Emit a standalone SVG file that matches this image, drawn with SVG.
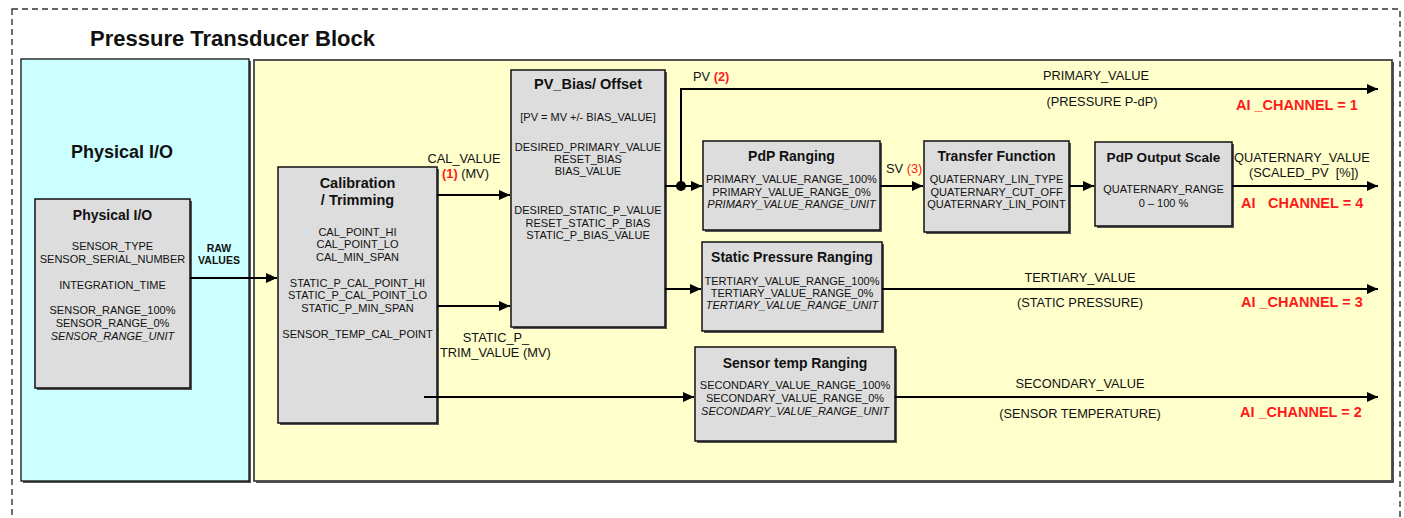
<svg xmlns="http://www.w3.org/2000/svg" width="1404" height="518" viewBox="0 0 1404 518">
  <defs>
    <marker id="arrow" markerUnits="userSpaceOnUse" markerWidth="11" markerHeight="10" refX="11" refY="5" orient="auto">
      <path d="M0,0 L11,5 L0,10 z" fill="#000"/>
    </marker>
  </defs>
  <style>
    text { font-family: "Liberation Sans", Arial, sans-serif; fill: #111; }
    .title { font-size: 22px; font-weight: bold; }
    .panelTitle { font-size: 18px; font-weight: bold; }
    .head { font-size: 14.5px; font-weight: bold; text-anchor: middle; }
    .body { font-size: 11px; text-anchor: middle; }
    .it { font-style: italic; }
    .lbl { font-size: 12.8px; }
    .mid { text-anchor: middle; }
    .red { fill: #ff1a1a; }
    .b { font-weight: bold; }
    .chan { font-size: 14.5px; font-weight: bold; fill: #ff1a1a; }
    .raw { font-size: 10.5px; font-weight: bold; text-anchor: middle; }
    .box { fill: #dddddd; stroke: #111; stroke-width: 1.5; }
    .shadow { fill: #555; }
    .conn { fill: none; stroke: #000; stroke-width: 2; }
  </style>

  <!-- outer dashed frame -->
  <rect x="12" y="9" width="1388" height="530" fill="none" stroke="#333" stroke-width="1.4" stroke-dasharray="6 4"/>

  <text class="title" x="90" y="46">Pressure Transducer Block</text>

  <!-- physical I/O panel -->
  <g id="panel-physical">
    <rect x="23" y="61" width="228" height="422" class="shadow"/>
    <rect x="21" y="59" width="228" height="422" fill="#ccffff" stroke="#111" stroke-width="1.3"/>
    <text class="panelTitle" x="122" y="158" text-anchor="middle">Physical I/O</text>
  </g>

  <!-- processing panel -->
  <g id="panel-processing">
    <rect x="256" y="62" width="1138" height="421" class="shadow"/>
    <rect x="254" y="60" width="1138" height="421" fill="#ffffcc" stroke="#444" stroke-width="1.8"/>
  </g>

  <g id="node-physical-io">
    <rect x="37" y="201" width="155" height="189" class="shadow"/>
    <rect x="35" y="199" width="155" height="189" class="box"/>
    <text class="head" x="112.5" y="220" style="font-size:14px">Physical I/O</text>
    <text class="body" x="112.5" y="250">SENSOR_TYPE</text>
    <text class="body" x="112.5" y="263">SENSOR_SERIAL_NUMBER</text>
    <text class="body" x="112.5" y="289">INTEGRATION_TIME</text>
    <text class="body" x="112.5" y="314">SENSOR_RANGE_100%</text>
    <text class="body" x="112.5" y="327">SENSOR_RANGE_0%</text>
    <text class="body it" x="112.5" y="340">SENSOR_RANGE_UNIT</text>
  </g>

  <g id="node-calibration">
    <rect x="280" y="169" width="159" height="256" class="shadow"/>
    <rect x="278" y="167" width="159" height="256" class="box"/>
    <text class="head" x="357.5" y="188">Calibration</text>
    <text class="head" x="357.5" y="205">/ Trimming</text>
    <text class="body" x="357.5" y="236">CAL_POINT_HI</text>
    <text class="body" x="357.5" y="248">CAL_POINT_LO</text>
    <text class="body" x="357.5" y="261">CAL_MIN_SPAN</text>
    <text class="body" x="357.5" y="287">STATIC_P_CAL_POINT_HI</text>
    <text class="body" x="357.5" y="299">STATIC_P_CAL_POINT_LO</text>
    <text class="body" x="357.5" y="312">STATIC_P_MIN_SPAN</text>
    <text class="body" x="357.5" y="338">SENSOR_TEMP_CAL_POINT</text>
  </g>

  <g id="node-pv-bias">
    <rect x="513" y="72" width="154" height="257" class="shadow"/>
    <rect x="511" y="70" width="154" height="257" class="box"/>
    <text class="head" x="588" y="89">PV_Bias/ Offset</text>
    <text class="body" x="588" y="121">[PV = MV +/- BIAS_VALUE]</text>
    <text class="body" x="588" y="151">DESIRED_PRIMARY_VALUE</text>
    <text class="body" x="588" y="163">RESET_BIAS</text>
    <text class="body" x="588" y="175">BIAS_VALUE</text>
    <text class="body" x="588" y="214">DESIRED_STATIC_P_VALUE</text>
    <text class="body" x="588" y="227">RESET_STATIC_P_BIAS</text>
    <text class="body" x="588" y="239">STATIC_P_BIAS_VALUE</text>
  </g>

  <g id="node-pdp-ranging">
    <rect x="705" y="143" width="177" height="89" class="shadow"/>
    <rect x="703" y="141" width="177" height="89" class="box"/>
    <text class="head" x="791.5" y="161" style="font-size:14px">PdP Ranging</text>
    <text class="body" x="791.5" y="183">PRIMARY_VALUE_RANGE_100%</text>
    <text class="body" x="791.5" y="195.5">PRIMARY_VALUE_RANGE_0%</text>
    <text class="body it" x="791.5" y="208">PRIMARY_VALUE_RANGE_UNIT</text>
  </g>

  <g id="node-transfer-function">
    <rect x="926" y="143" width="145" height="91" class="shadow"/>
    <rect x="924" y="141" width="145" height="91" class="box"/>
    <text class="head" x="996.5" y="161" style="font-size:14px">Transfer Function</text>
    <text class="body" x="996.5" y="183">QUATERNARY_LIN_TYPE</text>
    <text class="body" x="996.5" y="195.5">QUATERNARY_CUT_OFF</text>
    <text class="body" x="996.5" y="208">QUATERNARY_LIN_POINT</text>
  </g>

  <g id="node-pdp-output-scale">
    <rect x="1097" y="144" width="137" height="84" class="shadow"/>
    <rect x="1095" y="142" width="137" height="84" class="box"/>
    <text class="head" x="1163.5" y="162" style="font-size:13.6px">PdP Output Scale</text>
    <text class="body" x="1163.5" y="193">QUATERNARY_RANGE</text>
    <text class="body" x="1163.5" y="207">0 – 100 %</text>
  </g>

  <g id="node-static-pressure-ranging">
    <rect x="704" y="244" width="180" height="89" class="shadow"/>
    <rect x="702" y="242" width="180" height="89" class="box"/>
    <text class="head" x="792" y="262" style="font-size:14px">Static Pressure Ranging</text>
    <text class="body" x="792" y="285">TERTIARY_VALUE_RANGE_100%</text>
    <text class="body" x="792" y="297">TERTIARY_VALUE_RANGE_0%</text>
    <text class="body it" x="792" y="309">TERTIARY_VALUE_RANGE_UNIT</text>
  </g>

  <g id="node-sensor-temp-ranging">
    <rect x="697" y="349" width="200" height="94" class="shadow"/>
    <rect x="695" y="347" width="200" height="94" class="box"/>
    <text class="head" x="795" y="368" style="font-size:14px">Sensor temp Ranging</text>
    <text class="body" x="795" y="389">SECONDARY_VALUE_RANGE_100%</text>
    <text class="body" x="795" y="402">SECONDARY_VALUE_RANGE_0%</text>
    <text class="body it" x="795" y="415">SECONDARY_VALUE_RANGE_UNIT</text>
  </g>

  <!-- connectors -->
  <g id="connectors">
    <path class="conn" d="M190 278 H277" marker-end="url(#arrow)"/>
    <path class="conn" d="M437 195 H510" marker-end="url(#arrow)"/>
    <path class="conn" d="M437 306 H510" marker-end="url(#arrow)"/>
    <path class="conn" d="M424 397 H694" marker-end="url(#arrow)"/>
    <path class="conn" d="M665 186 H702" marker-end="url(#arrow)"/>
    <path class="conn" d="M681 186 V89 H1378" marker-end="url(#arrow)"/>
    <circle cx="681" cy="186" r="5" fill="#000"/>
    <path class="conn" d="M880 186 H923" marker-end="url(#arrow)"/>
    <path class="conn" d="M1069 186 H1094" marker-end="url(#arrow)"/>
    <path class="conn" d="M1232 186 H1378" marker-end="url(#arrow)"/>
    <path class="conn" d="M665 289 H701" marker-end="url(#arrow)"/>
    <path class="conn" d="M882 289 H1378" marker-end="url(#arrow)"/>
    <path class="conn" d="M895 397 H1378" marker-end="url(#arrow)"/>
  </g>

  <!-- connector labels -->
  <g id="labels">
    <text class="raw" x="219" y="252">RAW</text>
    <text class="raw" x="219" y="264">VALUES</text>

    <text class="lbl mid" x="464" y="163">CAL_VALUE</text>
    <text class="lbl" x="442" y="178"><tspan class="red b">(1)</tspan> (MV)</text>

    <text class="lbl mid" x="496" y="342">STATIC_P_</text>
    <text class="lbl" x="440" y="357">TRIM_VALUE (MV)</text>

    <text class="lbl" x="693" y="81">PV <tspan class="red b">(2)</tspan></text>
    <text class="lbl" x="886" y="173">SV <tspan class="red">(3)</tspan></text>

    <text class="lbl mid" x="1096" y="80">PRIMARY_VALUE</text>
    <text class="lbl mid" x="1102" y="106">(PRESSURE P-dP)</text>
    <text class="chan" x="1236" y="110">AI _CHANNEL = 1</text>

    <text class="lbl" x="1234" y="162">QUATERNARY_VALUE</text>
    <text class="lbl" x="1249" y="177" xml:space="preserve">(SCALED_PV  [%])</text>
    <text class="chan" y="208"><tspan x="1241">AI</tspan><tspan x="1268">CHANNEL = 4</tspan></text>

    <text class="lbl mid" x="1080" y="282">TERTIARY_VALUE</text>
    <text class="lbl mid" x="1080" y="307">(STATIC PRESSURE)</text>
    <text class="chan" x="1241" y="307">AI _CHANNEL = 3</text>

    <text class="lbl mid" x="1080" y="388">SECONDARY_VALUE</text>
    <text class="lbl mid" x="1080" y="418">(SENSOR TEMPERATURE)</text>
    <text class="chan" x="1240" y="417">AI _CHANNEL = 2</text>
  </g>
</svg>
